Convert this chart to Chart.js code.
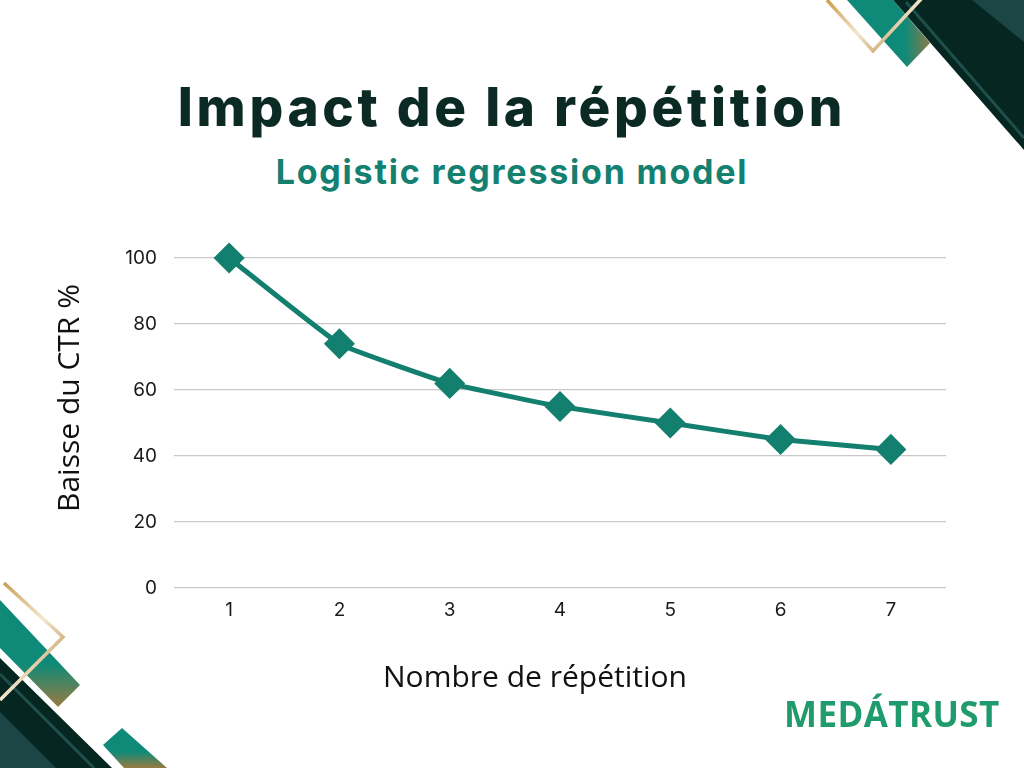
<!DOCTYPE html>
<html>
<head>
<meta charset="utf-8">
<script src="https://cdn.jsdelivr.net/npm/chart.js@4.4.1/dist/chart.umd.min.js"></script>
<style>
  html, body { margin: 0; padding: 0; background: #fff; }
  .page { position: relative; width: 1024px; height: 768px; overflow: hidden; background: #fff; }
  .deco { position: absolute; left: 0; top: 0; width: 1024px; height: 768px; }
  h1 { position: absolute; left: 0; width: 1024px; top: 75px; margin: 0; text-align: center;
       font-family: Inter, sans-serif; font-weight: 800; font-size: 53px; color: #0b2a24; letter-spacing: 3.7px; }
  h2 { position: absolute; left: 0; width: 1024px; top: 151px; margin: 0; text-align: center;
       font-family: Inter, sans-serif; font-weight: 700; font-size: 34px; color: #138070; letter-spacing: 1.8px; }
  .xtitle { position: absolute; left: 335px; width: 400px; top: 655px; text-align: center;
            font-family: "Open Sans", sans-serif; font-size: 30px; color: #111; }
  .ytitle { position: absolute; left: 68px; top: 398px; width: 300px; margin-left: -150px; margin-top: -20px;
            line-height: 40px; text-align: center; transform: rotate(-90deg);
            font-family: "Open Sans", sans-serif; font-size: 30px; color: #111; }
  .logo { position: absolute; left: 784px; top: 690px; font-family: "Open Sans", sans-serif; font-weight: 700;
          font-size: 35px; color: #1f9b6d; letter-spacing: 0.4px; }
  .chartbox { position: absolute; left: 0; top: 0; width: 1024px; height: 768px; }
</style>
</head>
<body>
<div class="page">
  <svg class="deco" viewBox="0 0 1024 768">
    <defs>
      <linearGradient id="gold" x1="0" y1="0" x2="1" y2="1">
        <stop offset="0" stop-color="#c99a4a"/>
        <stop offset="0.5" stop-color="#f3e7cf"/>
        <stop offset="1" stop-color="#b8843a"/>
      </linearGradient>
      <linearGradient id="tealg" x1="0" y1="0" x2="1" y2="0">
        <stop offset="0" stop-color="#0f8a78"/>
        <stop offset="0.7" stop-color="#0f8a78"/>
        <stop offset="1" stop-color="#8a7a48"/>
      </linearGradient>
      <linearGradient id="tealg2" x1="0" y1="0" x2="0" y2="1">
        <stop offset="0" stop-color="#0f8a78"/>
        <stop offset="0.6" stop-color="#0f8a78"/>
        <stop offset="1" stop-color="#9a7a40"/>
      </linearGradient>
    </defs>
    <!-- haut droite -->
    <polygon points="847,0 893,0 930,43 907,67" fill="url(#tealg)"/>
    <polygon points="893,0 1024,0 1024,150" fill="#052621"/>
    <polygon points="972,0 1024,0 1024,42" fill="#1b4645"/>
    <polyline points="906,2 1024,138" stroke="#1f4f4c" stroke-width="3" fill="none"/>
    <polyline points="827,0 873,51 922,-2" stroke="url(#gold)" stroke-width="3.5" fill="none"/>
    <!-- bas gauche -->
    <polygon points="0,600 80,685 58,707 0,648" fill="url(#tealg2)"/>
    <polygon points="0,658 112,768 0,768" fill="#052621"/>
    <polygon points="0,712 56,768 0,768" fill="#1b4645"/>
    <polyline points="0,674 94,768" stroke="#1f4f4c" stroke-width="3" fill="none"/>
    <polygon points="103,745 122,728 167,768 124,768" fill="url(#tealg2)"/>
    <polyline points="4,583 63,637 0,700" stroke="url(#gold)" stroke-width="3.5" fill="none"/>
  </svg>
  <h1>Impact de la répétition</h1>
  <h2>Logistic regression model</h2>
  <div class="chartbox"><canvas id="ctrChart" width="1024" height="768"></canvas></div>
  <div class="ytitle">Baisse du CTR %</div>
  <div class="xtitle">Nombre de répétition</div>
  <div class="logo">MEDÁTRUST</div>
</div>
<script>
// Données du graphique
var repetitions = ['1', '2', '3', '4', '5', '6', '7'];
var baisseCtr = [100, 74, 62, 55, 50, 45, 42];
var yTicks = [0, 20, 40, 60, 80, 100];

var teal = '#137f6e';

var ctx = document.getElementById('ctrChart').getContext('2d');
var ctrChart = new Chart(ctx, {
    type: 'line',
    data: {
        labels: repetitions,
        datasets: [{
            label: 'Baisse du CTR %',
            data: baisseCtr,
            borderColor: teal,
            backgroundColor: teal,
            borderWidth: 5,
            pointStyle: 'rectRot',
            pointRadius: 12,
            pointHoverRadius: 12,
            tension: 0.1,
            clip: false
        }]
    },
    options: {
        responsive: false,
        animation: false,
        layout: { padding: { left: 50, right: 78, top: 258, bottom: 0 } },
        plugins: { legend: { display: false }, tooltip: { enabled: false } },
        scales: {
            x: {
                offset: true,
                grid: { display: false },
                border: { display: false },
                ticks: { color: '#1a1a1a', font: { family: 'Inter', size: 19 }, padding: 3 },
                afterFit: function (scale) { scale.height = 180; }
            },
            y: {
                min: 0,
                max: 100,
                afterBuildTicks: function (scale) {
                    scale.ticks = yTicks.map(function (v) { return { value: v }; });
                },
                afterFit: function (scale) { scale.width = 124; },
                grid: { color: '#c9c9c9', lineWidth: 1.2, drawTicks: false },
                border: { display: false },
                ticks: { color: '#1a1a1a', font: { family: 'Inter', size: 19 }, padding: 17 }
            }
        }
    }
});
</script>
</body>
</html>
